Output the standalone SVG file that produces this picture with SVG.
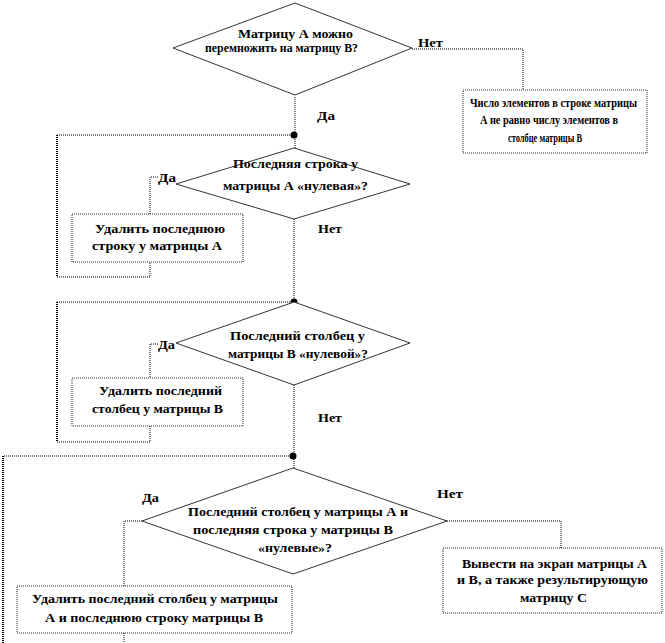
<svg xmlns="http://www.w3.org/2000/svg" width="665" height="643" viewBox="0 0 665 643">
<style>
.dia{fill:#fff;stroke:#333;stroke-width:1}
.box{fill:#fff;stroke:#222;stroke-width:1;stroke-dasharray:1,1}
.t{font-family:"Liberation Serif","Times New Roman",serif;font-weight:bold;font-size:13px;fill:#000}
.s{font-size:12px}
.c{fill:none;stroke:#000;stroke-width:1;stroke-dasharray:1,1}
.cw{fill:none;stroke:#000;stroke-width:2;stroke-dasharray:1,1}
.dot{fill:#000}
</style>
<rect width="665" height="643" fill="#fff"/>
<g id="connectors">
<path class="c" d="M295 97 V148"/>
<path class="c" d="M412 49 H523 V90"/>
<path class="c" d="M294 135 H57"/>
<path class="cw" d="M57 135 V277"/>
<path class="c" d="M57 277 H150 V177 H158"/>
<path class="c" d="M294 219 V302"/>
<path class="c" d="M294 302 H57"/>
<path class="cw" d="M57 302 V442"/>
<path class="c" d="M57 442 H150 V344 H158"/>
<path class="c" d="M294 385 V468"/>
<path class="c" d="M293 456 H3"/>
<path class="cw" d="M3 456 V643"/>
<path class="c" d="M142 521 H124 V643"/>
<path class="c" d="M447 521 H561 V548"/>
<circle class="dot" cx="294" cy="135" r="3.5"/>
<circle class="dot" cx="294" cy="302" r="3.5"/>
<circle class="dot" cx="293" cy="456" r="3.5"/>
</g>
<g id="labels">
<text class="t" x="418" y="47" textLength="25" lengthAdjust="spacingAndGlyphs">Нет</text>
<text class="t" x="317" y="120" textLength="18" lengthAdjust="spacingAndGlyphs">Да</text>
<text class="t" x="158" y="182" textLength="18" lengthAdjust="spacingAndGlyphs">Да</text>
<text class="t" x="318" y="233" textLength="24" lengthAdjust="spacingAndGlyphs">Нет</text>
<text class="t" x="158" y="349" textLength="17" lengthAdjust="spacingAndGlyphs">Да</text>
<text class="t" x="318" y="422" textLength="24" lengthAdjust="spacingAndGlyphs">Нет</text>
<text class="t" x="142" y="502" textLength="17" lengthAdjust="spacingAndGlyphs">Да</text>
<text class="t" x="437" y="498" textLength="26" lengthAdjust="spacingAndGlyphs">Нет</text>
</g>
<g id="d1">
<polygon class="dia" points="295,3 412,48 295,95 173,48"/>
<text class="t" x="238" y="38" textLength="115" lengthAdjust="spacingAndGlyphs">Матрицу А можно</text>
<text class="t" x="205" y="52" textLength="153" lengthAdjust="spacingAndGlyphs">перемножить на матрицу В?</text>
</g>
<g id="b1">
<rect class="box" x="463" y="90" width="184" height="63"/>
<text class="t s" x="470" y="107" textLength="167" lengthAdjust="spacingAndGlyphs">Число элементов в строке матрицы</text>
<text class="t s" x="480" y="124" textLength="138" lengthAdjust="spacingAndGlyphs">А не равно числу элементов в</text>
<text class="t s" x="508" y="142" textLength="74" lengthAdjust="spacingAndGlyphs">столбце матрицы В</text>
</g>
<g id="d2">
<polygon class="dia" points="294,148 410,184 294,219 176,184"/>
<text class="t" x="233" y="168" textLength="125" lengthAdjust="spacingAndGlyphs">Последняя строка у</text>
<text class="t" x="223" y="190" textLength="145" lengthAdjust="spacingAndGlyphs">матрицы А «нулевая»?</text>
</g>
<g id="bA">
<rect class="box" x="72" y="214" width="171" height="48"/>
<text class="t" x="95" y="233" textLength="130" lengthAdjust="spacingAndGlyphs">Удалить последнюю</text>
<text class="t" x="92" y="250" textLength="130" lengthAdjust="spacingAndGlyphs">строку у матрицы А</text>
</g>
<g id="d3">
<polygon class="dia" points="294,302 410,343 294,385 176,343"/>
<text class="t" x="230" y="340" textLength="135" lengthAdjust="spacingAndGlyphs">Последний столбец у</text>
<text class="t" x="228" y="358" textLength="140" lengthAdjust="spacingAndGlyphs">матрицы В «нулевой»?</text>
</g>
<g id="bB">
<rect class="box" x="72" y="378" width="171" height="48"/>
<text class="t" x="99" y="395" textLength="123" lengthAdjust="spacingAndGlyphs">Удалить последний</text>
<text class="t" x="92" y="413" textLength="131" lengthAdjust="spacingAndGlyphs">столбец у матрицы В</text>
</g>
<g id="d4">
<polygon class="dia" points="293,468 447,521 293,574 142,521"/>
<text class="t" x="188" y="516" textLength="220" lengthAdjust="spacingAndGlyphs">Последний столбец у матрицы А и</text>
<text class="t" x="193" y="534" textLength="200" lengthAdjust="spacingAndGlyphs">последняя строка у матрицы  В</text>
<text class="t" x="258" y="552" textLength="74" lengthAdjust="spacingAndGlyphs">«нулевые»?</text>
</g>
<g id="bC">
<rect class="box" x="17" y="586" width="275" height="47"/>
<text class="t" x="32" y="603" textLength="246" lengthAdjust="spacingAndGlyphs">Удалить последний столбец у матрицы</text>
<text class="t" x="45" y="622" textLength="218" lengthAdjust="spacingAndGlyphs">А и последнюю строку матрицы В</text>
</g>
<g id="bD">
<rect class="box" x="443" y="548" width="219" height="65"/>
<text class="t" x="462" y="568" textLength="185" lengthAdjust="spacingAndGlyphs">Вывести на экран матрицы А</text>
<text class="t" x="457" y="584" textLength="191" lengthAdjust="spacingAndGlyphs">и В, а также результирующую</text>
<text class="t" x="520" y="602" textLength="67" lengthAdjust="spacingAndGlyphs">матрицу С</text>
</g>
</svg>
